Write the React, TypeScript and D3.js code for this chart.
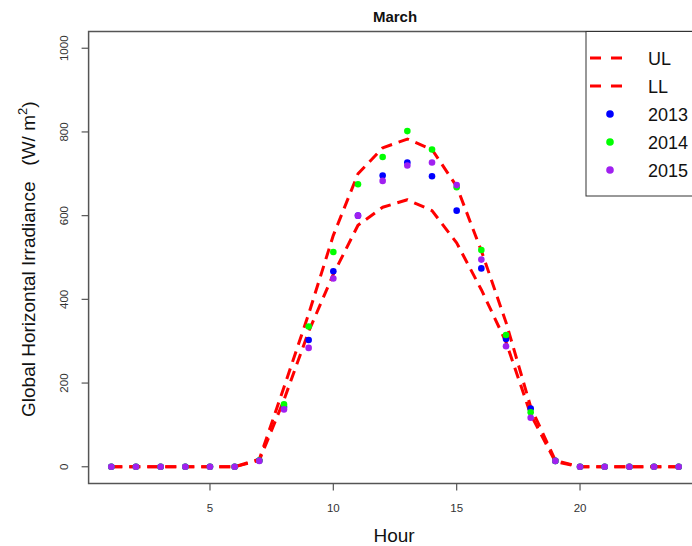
import React from "react";
import * as d3 from "d3";

// Hourly global horizontal irradiance for March (W/m^2)
const hours = [1, 2, 3, 4, 5, 6, 7, 8, 9, 10, 11, 12, 13, 14, 15, 16, 17, 18, 19, 20, 21, 22, 23, 24];
const upperLimit = [0, 0, 0, 0, 0, 0, 18, 190, 365, 553, 700, 762, 783, 758, 670, 516, 345, 143, 15, 0, 0, 0, 0, 0];
const lowerLimit = [0, 0, 0, 0, 0, 0, 15, 160, 323, 460, 577, 620, 638, 612, 535, 423, 298, 125, 12, 0, 0, 0, 0, 0];
const y2013 = [0, 0, 0, 0, 0, 0, 15, 143, 303, 467, 600, 696, 727, 694, 612, 474, 305, 139, 14, 0, 0, 0, 0, 0];
const y2014 = [0, 0, 0, 0, 0, 0, 15, 149, 335, 513, 675, 740, 802, 758, 668, 518, 315, 130, 14, 0, 0, 0, 0, 0];
const y2015 = [0, 0, 0, 0, 0, 0, 14, 137, 284, 450, 600, 683, 720, 727, 673, 495, 288, 117, 14, 0, 0, 0, 0, 0];

const xTicks = [5, 10, 15, 20];
const yTicks = [0, 200, 400, 600, 800, 1000];

const lineSeries = [
  { name: "UL", values: upperLimit },
  { name: "LL", values: lowerLimit },
];
const pointSeries = [
  { name: "2013", values: y2013, color: "#0000FF" },
  { name: "2014", values: y2014, color: "#00FF00" },
  { name: "2015", values: y2015, color: "#A020F0" },
];

const W = 692;
const H = 546;
const plot = { left: 88.6, right: 701.4, top: 31.5, bottom: 483.5 };
const FONT = "Liberation Sans, Arial, sans-serif";
const RED = "#FF0000";

export default function App() {
  const x = d3.scaleLinear().domain([0.08, 24.92]).range([plot.left, plot.right]);
  const y = d3.scaleLinear().domain([-40, 1040]).range([plot.bottom, plot.top]);
  const line = d3
    .line<number>()
    .x((_, i) => x(hours[i]))
    .y((v) => y(v));

  const legendX = 586;
  const legendRows = [58, 86, 114, 142, 170];

  return (
    <svg
      width={W}
      height={H}
      style={{ position: "absolute", left: 0, top: 0, background: "#fff" }}
      fontFamily={FONT}
    >
      {/* title */}
      <text x={(plot.left + plot.right) / 2} y={22} textAnchor="middle" fontSize={15} fontWeight="bold" fill="#111">
        March
      </text>

      {/* plot frame */}
      <rect
        x={plot.left}
        y={plot.top}
        width={plot.right - plot.left}
        height={plot.bottom - plot.top}
        fill="none"
        stroke="#555"
        strokeWidth={1.5}
      />

      {/* y axis */}
      {yTicks.map((t) => (
        <g key={"y" + t}>
          <line x1={plot.left - 7} x2={plot.left} y1={y(t)} y2={y(t)} stroke="#555" strokeWidth={1.2} />
          <text
            transform={`translate(${67.5},${y(t)}) rotate(-90)`}
            textAnchor="middle"
            fontSize={11.5}
            fill="#333"
          >
            {t}
          </text>
        </g>
      ))}

      {/* x axis */}
      {xTicks.map((t) => (
        <g key={"x" + t}>
          <line x1={x(t)} x2={x(t)} y1={plot.bottom} y2={plot.bottom + 7} stroke="#555" strokeWidth={1.2} />
          <text x={x(t)} y={511.5} textAnchor="middle" fontSize={11.5} fill="#333">
            {t}
          </text>
        </g>
      ))}

      {/* axis titles */}
      <text x={(plot.left + plot.right) / 2 - 1} y={542} textAnchor="middle" fontSize={19} fill="#111">
        Hour
      </text>
      <text transform={`translate(35,417) rotate(-90)`} textAnchor="start" fontSize={19} fill="#111">
        Global Horizontal Irradiance{"\u00a0\u00a0\u00a0"}(W/ m
        <tspan dy={-8} fontSize={13}>2</tspan>
        <tspan dy={8}>)</tspan>
      </text>

      {/* limit curves */}
      {lineSeries.map((s) => (
        <path
          key={s.name}
          d={line(s.values) || ""}
          fill="none"
          stroke={RED}
          strokeWidth={3}
          strokeDasharray="11,7"
          strokeLinejoin="round"
        />
      ))}

      {/* yearly observations */}
      {pointSeries.map((s) => (
        <g key={s.name}>
          {s.values.map((v, i) => (
            <circle key={i} cx={x(hours[i])} cy={y(v)} r={3.3} fill={s.color} />
          ))}
        </g>
      ))}

      {/* legend */}
      <rect x={legendX} y={plot.top} width={W} height={196 - plot.top} fill="#fff" stroke="#333" strokeWidth={1} />
      {lineSeries.map((s, i) => (
        <g key={"leg" + s.name}>
          <line
            x1={legendX + 4}
            x2={legendX + 36}
            y1={legendRows[i]}
            y2={legendRows[i]}
            stroke={RED}
            strokeWidth={3}
            strokeDasharray="11,10"
          />
          <text x={legendX + 62} y={legendRows[i] + 6.5} fontSize={18} fill="#111">
            {s.name}
          </text>
        </g>
      ))}
      {pointSeries.map((s, i) => (
        <g key={"leg" + s.name}>
          <circle cx={legendX + 24} cy={legendRows[i + 2]} r={3.8} fill={s.color} />
          <text x={legendX + 62} y={legendRows[i + 2] + 6.5} fontSize={18} fill="#111">
            {s.name}
          </text>
        </g>
      ))}
    </svg>
  );
}
